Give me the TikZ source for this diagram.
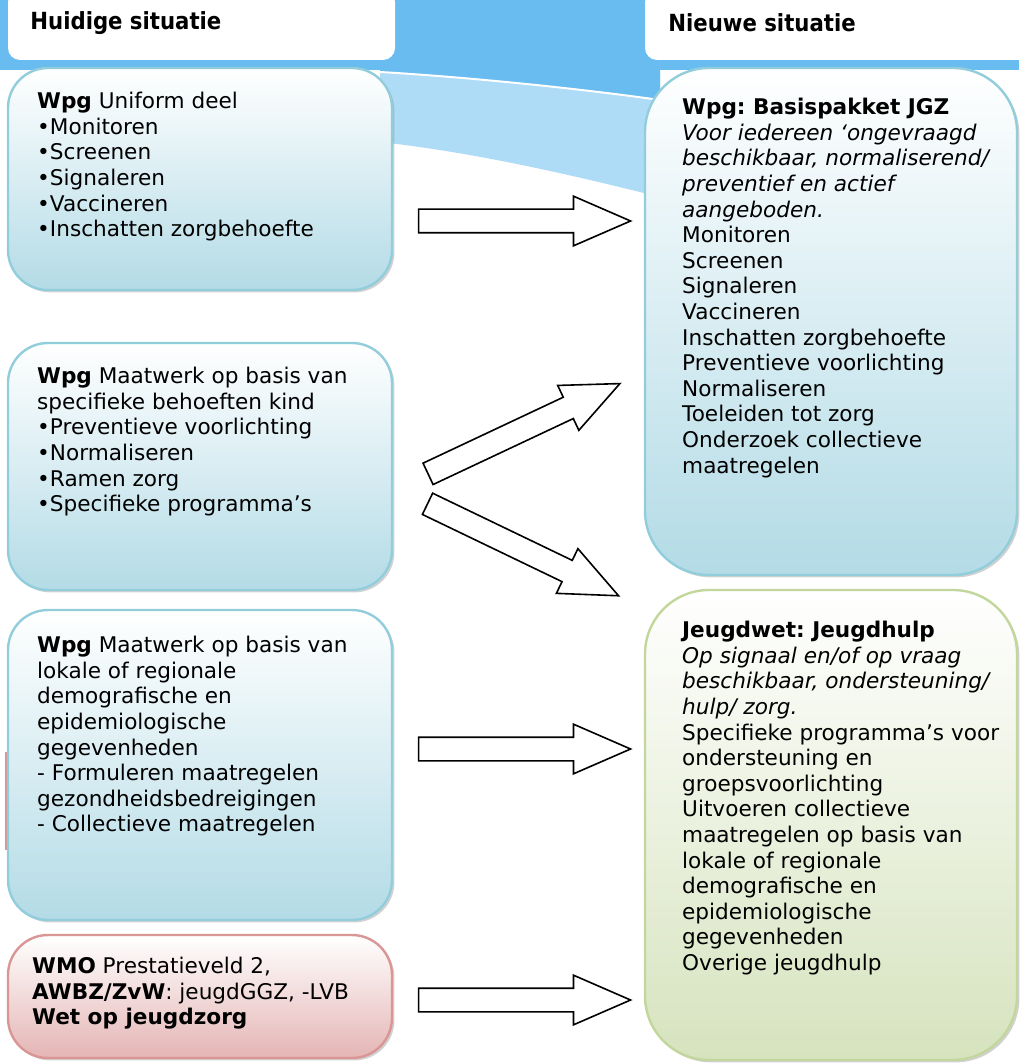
\documentclass[tikz,border=0pt]{standalone}
\usepackage{fontspec}
\setmainfont{DejaVu Sans}
\newfontfamily\condfont{DejaVu Sans Condensed}
\usetikzlibrary{shapes.arrows,fit,shadows}
\definecolor{topblue}{HTML}{69BCEF}
\definecolor{paleblue}{HTML}{AEDBF6}
\definecolor{boxblue}{HTML}{B3DBE6}
\definecolor{lineblue}{HTML}{92CDDC}
\definecolor{boxgreen}{HTML}{D6E3BE}
\definecolor{linegreen}{HTML}{C3D69B}
\definecolor{boxpink}{HTML}{E5B5B5}
\definecolor{linepink}{HTML}{D99694}
\frenchspacing

\begin{document}
\begin{tikzpicture}[x=0.5pt,y=-0.5pt,
  box/.style={inner sep=0pt, line width=1.2pt, rounded corners=20pt,
    drop shadow={shadow xshift=1.2pt, shadow yshift=-1.2pt, fill=black!40, opacity=.45}},
  bluebox/.style={box, draw=lineblue, top color=white, bottom color=boxblue},
  greenbox/.style={box, draw=linegreen, top color=white, bottom color=boxgreen},
  pinkbox/.style={box, draw=linepink, top color=white, bottom color=boxpink},
  headbox/.style={fill=white, rounded corners=6pt, inner sep=0pt},
  head/.style={anchor=west, inner sep=0pt, font=\condfont\bfseries\fontsize{11.8}{14}\selectfont},
  txt/.style={anchor=north west, align=left, inner sep=0pt, font=\fontsize{10.8}{12.8}\selectfont},
  blockarrow/.style={single arrow, draw, fill=white, line width=0.8pt,
    inner xsep=0pt, inner ysep=5.5pt, text height=0pt, text depth=0pt,
    minimum width=24pt, minimum height=106pt, single arrow head extend=6.5pt,
    single arrow tip angle=47}
]
\useasboundingbox (0,0) rectangle (1019,1063);
\fill[topblue] (0,0) rectangle (1019,70);
\fill[paleblue] (380,60) -- (660,60) -- (660,197) .. controls (560,172) and (470,152) .. (380,142) -- cycle;
\fill[topblue] (380,0) -- (660,0) -- (660,100) .. controls (560,86) and (450,76) .. (380,72) -- cycle;
\draw[white, line width=1pt] (380,72) .. controls (450,76) and (560,86) .. (660,100);
\draw[linepink, line width=1pt] (6,752) -- (6,850);

\node[headbox, fit={(8,-10) (395,60)}] (hleft) {};
\node[headbox, fit={(645,-10) (1030,60)}] (hright) {};
\node[head] at (30,23) {Huidige situatie};
\node[head] at (668,23) {Nieuwe situatie};

\node[bluebox, fit={(8,68) (392,290)}] (wpg1) {};
\node[bluebox, fit={(8,343) (392,590)}] (wpg2) {};
\node[bluebox, fit={(8,610) (392,920)}] (wpg3) {};
\node[pinkbox, fit={(8,935) (392,1058)}] (wmo) {};
\node[bluebox, rounded corners=32pt, fit={(645,68) (1017,575)}] (basis) {};
\node[greenbox, rounded corners=32pt, fit={(645,590) (1017,1060)}] (jeugd) {};

\node[txt] at ([shift={(30,25)}]wpg1.north west) {\textbf{Wpg} Uniform deel\\
  •Monitoren\\ •Screenen\\ •Signaleren\\ •Vaccineren\\ •Inschatten zorgbehoefte};
\node[txt] at ([shift={(30,25)}]wpg2.north west) {\textbf{Wpg} Maatwerk op basis van\\
  specifieke behoeften kind\\ •Preventieve voorlichting\\ •Normaliseren\\
  •Ramen zorg\\ •Specifieke programma’s};
\node[txt] at ([shift={(30,27)}]wpg3.north west) {\textbf{Wpg} Maatwerk op basis van\\
  lokale of regionale\\ demografische en\\ epidemiologische\\ gegevenheden\\
  - Formuleren maatregelen\\ gezondheidsbedreigingen\\ - Collectieve maatregelen};
\node[txt] at ([shift={(25,23)}]wmo.north west) {\textbf{WMO} Prestatieveld 2,\\
  \textbf{AWBZ/ZvW}: jeugdGGZ, -LVB\\ \textbf{Wet op jeugdzorg}};
\node[txt] at ([shift={(38,31)}]basis.north west) {\textbf{Wpg: Basispakket JGZ}\\
  \textit{Voor iedereen ‘ongevraagd}\\ \textit{beschikbaar, normaliserend/}\\
  \textit{preventief en actief}\\ \textit{aangeboden.}\\
  Monitoren\\ Screenen\\ Signaleren\\ Vaccineren\\ Inschatten zorgbehoefte\\
  Preventieve voorlichting\\ Normaliseren\\ Toeleiden tot zorg\\
  Onderzoek collectieve\\ maatregelen};
\node[txt] at ([shift={(38,32)}]jeugd.north west) {\textbf{Jeugdwet: Jeugdhulp}\\
  \textit{Op signaal en/of op vraag}\\ \textit{beschikbaar, ondersteuning/}\\
  \textit{hulp/ zorg.}\\ Specifieke programma’s voor\\ ondersteuning en\\
  groepsvoorlichting\\ Uitvoeren collectieve\\ maatregelen op basis van\\
  lokale of regionale\\ demografische en\\ epidemiologische\\ gegevenheden\\
  Overige jeugdhulp};

\node[blockarrow] (a1) at (511,221) {};
\node[blockarrow, rotate=25.2] (a2) at (511.7,434.5) {};
\node[blockarrow, rotate=-25.7] (a3) at (510.8,543.9) {};
\node[blockarrow] (a4) at (511,749) {};
\node[blockarrow] (a5) at (511,1000) {};
\end{tikzpicture}
\end{document}
